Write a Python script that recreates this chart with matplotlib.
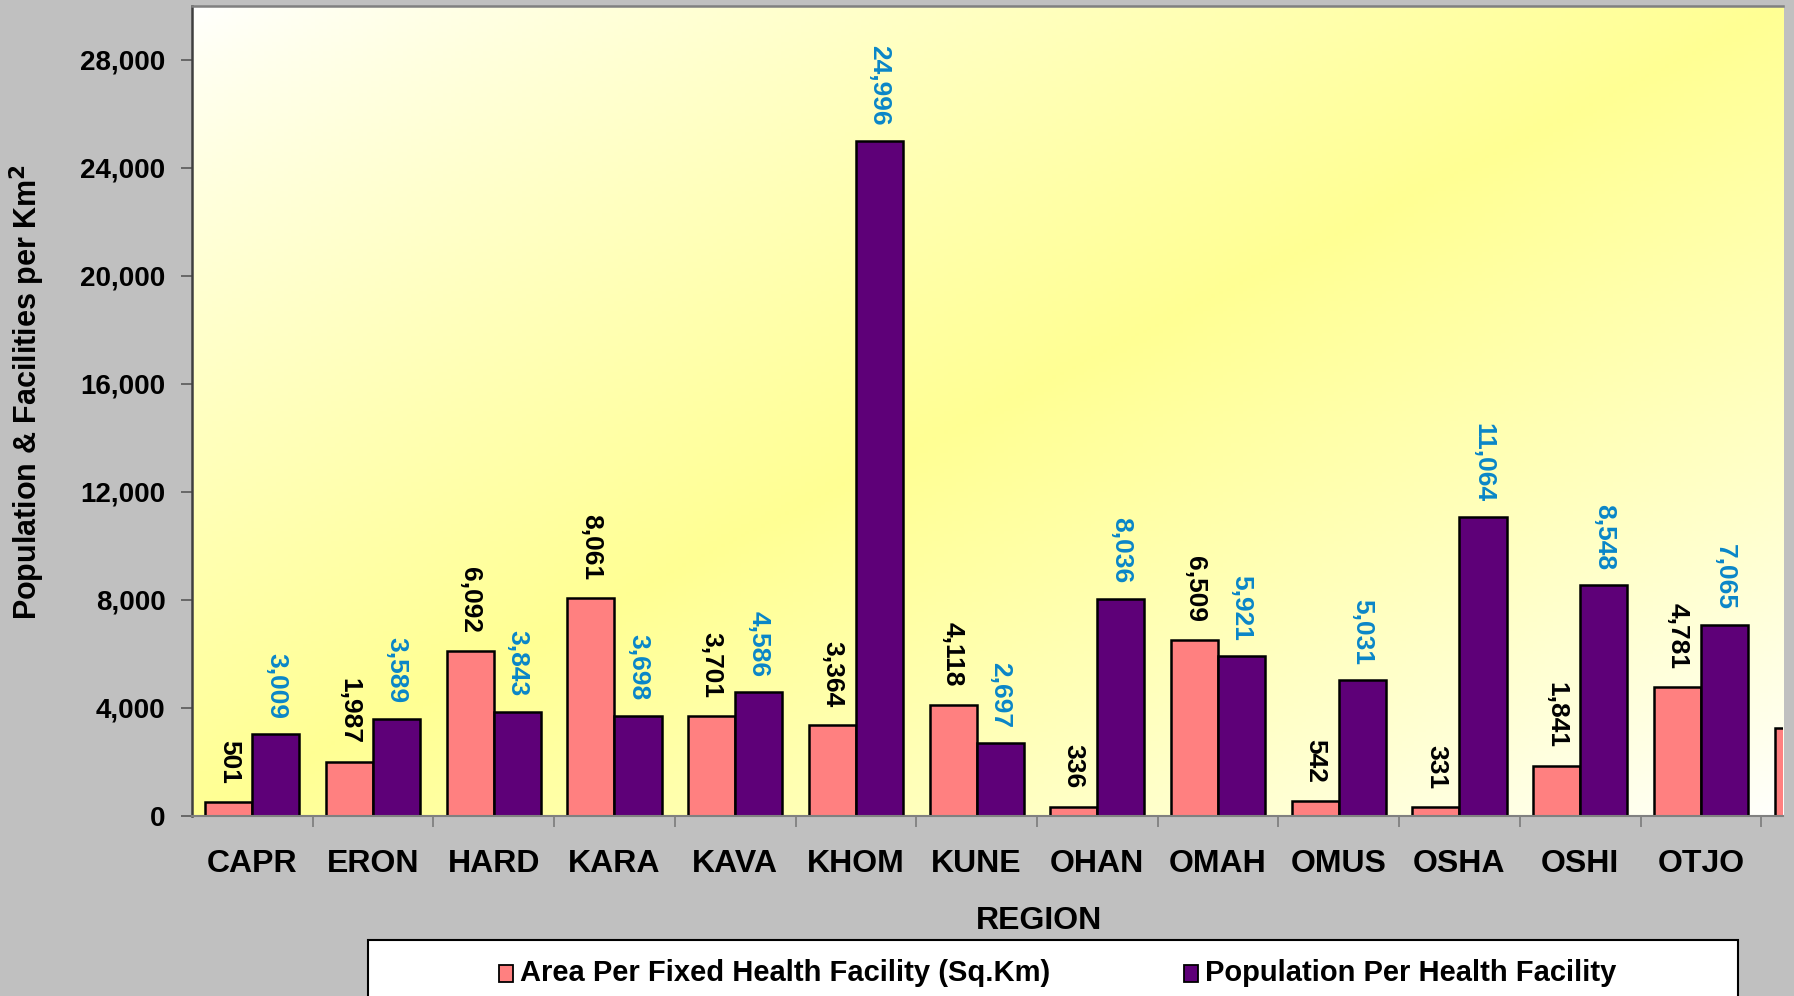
import numpy as np
import matplotlib.pyplot as plt
from matplotlib.patches import Rectangle
from matplotlib.ticker import FuncFormatter

regions = ['CAPR', 'ERON', 'HARD', 'KARA', 'KAVA', 'KHOM', 'KUNE',
           'OHAN', 'OMAH', 'OMUS', 'OSHA', 'OSHI', 'OTJO', 'NAMI']
area_per_facility = [501, 1987, 6092, 8061, 3701, 3364, 4118,
                     336, 6509, 542, 331, 1841, 4781, 3260]
pop_per_facility = [3009, 3589, 3843, 3698, 4586, 24996, 2697,
                    8036, 5921, 5031, 11064, 8548, 7065, np.nan]

series_names = ['Area Per Fixed Health Facility (Sq.Km)', 'Population Per Health Facility']
pink = '#FF8080'
purple = '#5E0078'
label_blue = '#0A86C8'
grey_bg = '#C0C0C0'

plt.rcParams['font.family'] = ['Liberation Sans', 'DejaVu Sans']
plt.rcParams['font.weight'] = 'bold'

W, H = 1794, 996
fig = plt.figure(figsize=(W / 100, H / 100), dpi=100, facecolor=grey_bg)
ax = fig.add_axes([192 / W, (H - 815.7) / H, (1783 - 192) / W, (815.7 - 6) / H])

# gradient background: white corners top-left / bottom-right, yellow across the diagonal
u = np.linspace(0, 1, 400)
v = np.linspace(0, 1, 250)
U, V = np.meshgrid(u, v)
t = (U + V) / 2
k = np.clip(1 - np.abs(2 * t - 1), 0, 1) ** 0.8
img = np.ones((250, 400, 3))
img[..., 2] = 1 - 0.42 * k
ax.imshow(img, extent=[0, 1, 0, 1], transform=ax.transAxes, aspect='auto', zorder=0)

X = np.arange(len(regions))
bw = 0.39
b1 = ax.bar(X - bw / 2, area_per_facility, bw, color=pink, edgecolor='black', linewidth=1.8, zorder=2)
b2 = ax.bar(X + bw / 2, pop_per_facility, bw, color=purple, edgecolor='black', linewidth=1.8, zorder=2)

ax.set_yticks(np.arange(0, 28001, 4000))
ax.yaxis.set_major_formatter(FuncFormatter(lambda y, pos: f'{int(y):,}'))
ax.tick_params(axis='y', labelsize=20, length=8, width=1.3, color='#606060', pad=11)
ax.set_xticks(X)
ax.set_xticklabels(regions, fontsize=23, fontweight='bold')
ax.set_xticks(X[:-1] + 0.5, minor=True)
ax.tick_params(axis='x', which='major', length=0, pad=24)
ax.tick_params(axis='x', which='minor', length=8, width=1.3, color='#808080')
for lab in ax.get_yticklabels():
    lab.set_fontweight('bold')

# the chart is cut off part-way into the last category
ax.set_xlim(-0.5, 12.68)
ax.set_ylim(0, 30000)

for i in range(len(regions)):
    a = area_per_facility[i]
    p = pop_per_facility[i]
    ax.annotate(f'{a:,}', (X[i] - bw / 2, a), xytext=(0, 13), textcoords='offset points',
                ha='center', va='bottom', rotation=270, fontsize=19, fontweight='bold',
                color='black', annotation_clip=True, zorder=3)
    if not np.isnan(p):
        ax.annotate(f'{int(p):,}', (X[i] + bw / 2, p), xytext=(0, 11), textcoords='offset points',
                    ha='center', va='bottom', rotation=270, fontsize=19, fontweight='bold',
                    color=label_blue, annotation_clip=True, zorder=3)

ax.spines['right'].set_visible(False)
ax.spines['left'].set_color('#404040')
ax.spines['left'].set_linewidth(1.8)
ax.spines['top'].set_color('#808080')
ax.spines['top'].set_linewidth(1.8)
ax.spines['bottom'].set_color('#808080')
ax.spines['bottom'].set_linewidth(1.5)

fig.text(27 / W, 1 - 392 / H, 'Population & Facilities per Km$^\\mathbf{2}$', rotation=90,
         ha='center', va='center', fontsize=22, fontweight='bold')
fig.text(1039 / W, 1 - 921 / H, 'REGION', ha='center', va='center', fontsize=23, fontweight='bold')

# legend box, running off the bottom of the picture
fig.patches.append(Rectangle((368 / W, -0.05), (1738 - 368) / W, 0.05 + (H - 940) / H,
                             transform=fig.transFigure, facecolor='white', edgecolor='black',
                             linewidth=1.5, zorder=1))
for x0, col, name in [(499, pink, series_names[0]), (1184, purple, series_names[1])]:
    fig.patches.append(Rectangle((x0 / W, 1 - 982 / H), 14 / W, 17 / H, transform=fig.transFigure,
                                 facecolor=col, edgecolor='black', linewidth=1.3, zorder=2))
    fig.text((x0 + 21) / W, 1 - 973 / H, name, ha='left', va='center', fontsize=21,
             fontweight='bold', zorder=3)

plt.savefig('out.png', dpi=100, facecolor=grey_bg)
